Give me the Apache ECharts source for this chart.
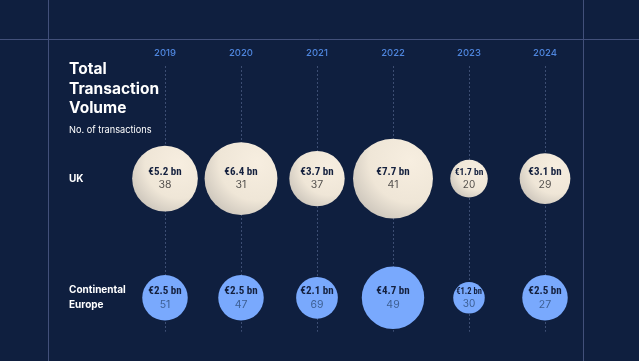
<!DOCTYPE html>
<html>
<head>
<meta charset="utf-8">
<script src="https://cdn.jsdelivr.net/npm/echarts@6/dist/echarts.min.js"></script>
<style>
html,body{margin:0;padding:0;background:#0f1f3f;}
#c{width:639px;height:361px;}
</style>
</head>
<body>
<div id="c"></div>
<script>
var years = ['2019', '2020', '2021', '2022', '2023', '2024'];
var regions = ['Continental Europe', 'UK'];
var ukValue = [5.2, 6.4, 3.7, 7.7, 1.7, 3.1];
var ukCount = [38, 31, 37, 41, 20, 29];
var euValue = [2.5, 2.5, 2.1, 4.7, 1.2, 2.5];
var euCount = [51, 47, 69, 49, 30, 27];

var chart = echarts.init(document.getElementById('c'), null, {renderer: 'canvas'});

function sizeOf(v) { return 28.8 * Math.sqrt(v); }

function buildData(vals, counts, region) {
  return vals.map(function (v, i) {
    return {value: [years[i], region, v, counts[i]]};
  });
}

function labelFmt(p) {
  var v = p.value[2];
  var small = v < 2;
  return '{' + (small ? 'vs' : 'v') + '|€' + v.toFixed(1) + ' bn}\n{' + (small ? 'cs' : 'c') + '|' + p.value[3] + '}';
}

var valFont = "'Liberation Sans Narrow','Roboto Condensed','Noto Sans',sans-serif";
var cntFont = "Inter, 'Noto Sans', sans-serif";

var ukGradient = new echarts.graphic.RadialGradient(0.72, 0.28, 0.95, [
  {offset: 0, color: '#f7eee0'},
  {offset: 0.55, color: '#efe6d7'},
  {offset: 1, color: '#bfb9b1'}
]);

var option = {
  backgroundColor: '#0f1f3f',
  animation: false,
  title: {
    text: 'Total\nTransaction\nVolume',
    subtext: 'No. of transactions',
    left: 69,
    top: 60,
    padding: 0,
    itemGap: 6,
    textStyle: {color: '#ffffff', fontFamily: 'Inter', fontWeight: 'bold', fontSize: 15.5, lineHeight: 19.5},
    subtextStyle: {color: '#ffffff', fontFamily: 'Inter', fontSize: 9.2, lineHeight: 12}
  },
  graphic: [
    {type: 'line', shape: {x1: 0, y1: 39.5, x2: 639, y2: 39.5}, style: {stroke: '#42507a', lineWidth: 1}, silent: true},
    {type: 'line', shape: {x1: 48.5, y1: 0, x2: 48.5, y2: 361}, style: {stroke: '#42507a', lineWidth: 1}, silent: true},
    {type: 'line', shape: {x1: 583.5, y1: 0, x2: 583.5, y2: 361}, style: {stroke: '#42507a', lineWidth: 1}, silent: true}
  ],
  grid: {left: 127, right: 56, top: 119, bottom: 3.6},
  xAxis: {
    type: 'category',
    data: years,
    position: 'top',
    axisLine: {show: false},
    axisTick: {show: false},
    splitLine: {show: false},
    axisLabel: {color: '#4f86de', fontFamily: 'Inter', fontWeight: 500, fontSize: 9.5, margin: 61}
  },
  yAxis: {
    type: 'category',
    data: regions,
    axisLine: {show: false},
    axisTick: {show: false},
    splitLine: {show: false},
    axisLabel: {
      align: 'left',
      margin: 58,
      color: '#ffffff',
      fontFamily: 'Inter',
      fontWeight: 'bold',
      fontSize: 10,
      lineHeight: 15,
      formatter: function (v) { return v === 'Continental Europe' ? 'Continental\nEurope' : v; }
    }
  },
  series: [
    {
      type: 'custom',
      silent: true,
      z: 1,
      data: years.map(function (y) { return [y]; }),
      renderItem: function (params, api) {
        var pEu = api.coord([api.value(0), 'Continental Europe']);
        var x = Math.round(pEu[0]) + 0.5;
        return {
          type: 'line',
          shape: {x1: x, y1: 66, x2: x, y2: pEu[1] + 34},
          style: {stroke: '#3c4d72', lineWidth: 1, lineDash: [2, 2]}
        };
      }
    },
    {
      type: 'scatter',
      z: 3,
      data: buildData(ukValue, ukCount, 'UK'),
      symbolSize: function (d) { return sizeOf(d[2]); },
      itemStyle: {color: ukGradient, opacity: 1},
      label: {
        show: true,
        position: 'inside',
        formatter: labelFmt,
        rich: {
          v: {fontFamily: valFont, fontWeight: 'bold', fontSize: 11, color: '#14203e', lineHeight: 13},
          c: {fontFamily: cntFont, fontSize: 10.5, color: '#55524f', lineHeight: 13},
          vs: {fontFamily: valFont, fontWeight: 'bold', fontSize: 9.5, color: '#14203e', lineHeight: 12},
          cs: {fontFamily: cntFont, fontSize: 10, color: '#55524f', lineHeight: 12}
        }
      }
    },
    {
      type: 'scatter',
      z: 3,
      data: buildData(euValue, euCount, 'Continental Europe'),
      symbolSize: function (d) { return sizeOf(d[2]); },
      itemStyle: {color: '#79a9fd', opacity: 1},
      label: {
        show: true,
        position: 'inside',
        formatter: labelFmt,
        rich: {
          v: {fontFamily: valFont, fontWeight: 'bold', fontSize: 11, color: '#14203e', lineHeight: 13.5},
          c: {fontFamily: cntFont, fontSize: 10.5, color: '#3d5f93', lineHeight: 13.5},
          vs: {fontFamily: valFont, fontWeight: 'bold', fontSize: 8.5, color: '#14203e', lineHeight: 12},
          cs: {fontFamily: cntFont, fontSize: 10, color: '#3d5f93', lineHeight: 12}
        }
      }
    }
  ]
};
chart.setOption(option);
</script>
</body>
</html>
